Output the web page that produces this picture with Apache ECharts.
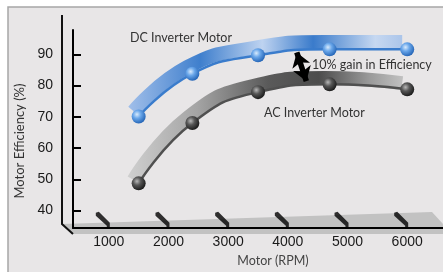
<!DOCTYPE html>
<html>
<head>
<meta charset="utf-8">
<script src="https://cdn.jsdelivr.net/npm/echarts@6/dist/echarts.min.js"></script>
<style>html,body{margin:0;padding:0;background:#fff}#c{width:443px;height:272px}</style>
</head>
<body>
<div id="c"></div>
<script>
// ---- data ----
const rpm = [1500, 2400, 3500, 4700, 6000];
const dcEfficiency = [70.1, 83.8, 89.7, 91.6, 91.6];
const acEfficiency = [48.7, 68.0, 77.9, 80.4, 78.8];
const rpmTicks = [1000, 2000, 3000, 4000, 5000, 6000];
const efficiencyTicks = [40, 50, 60, 70, 80, 90];
const gainArrow = [[4150, 90.6], [4310, 81.4]];
const floorTickLevel = 36.9;

const FONT = 'Lato, "Liberation Sans", sans-serif';
const NUMFONT = '"Liberation Sans", Arial, sans-serif';

const chart = echarts.init(document.getElementById('c'), null, {renderer: 'canvas'});

const pairs = arr => rpm.map((r, i) => [r, arr[i]]);

function sphere(c0, c1, c2) {
  return {type: 'radial', x: 0.38, y: 0.35, r: 0.7,
    colorStops: [{offset: 0, color: c0}, {offset: 0.4, color: c1}, {offset: 1, color: c2}]};
}

const xBase = {type: 'value', min: 400, max: 6600};
const yBase = {type: 'value', min: 34.4, max: 97.8};

const option = {
  backgroundColor: '#ffffff',
  animation: false,
  grid: [
    {left: 73, right: 0, top: 30, bottom: 38},
    {left: 68, right: 5, top: 22, bottom: 46}
  ],
  xAxis: [
    Object.assign({}, xBase, {
      gridIndex: 0,
      axisLine: {show: true, lineStyle: {color: '#000', width: 2}},
      axisTick: {show: false},
      splitLine: {show: false},
      axisLabel: {customValues: rpmTicks, formatter: v => String(v), fontSize: 14, color: '#1a1a1a', fontFamily: NUMFONT, margin: 7},
      name: 'Motor (RPM)', nameLocation: 'middle', nameGap: 26,
      nameTextStyle: {fontSize: 12.5, color: '#444', fontFamily: FONT, padding: [0, 0, 0, 30]}
    }),
    Object.assign({}, xBase, {gridIndex: 1, show: false})
  ],
  yAxis: [
    Object.assign({}, yBase, {
      gridIndex: 0,
      axisLine: {show: true, lineStyle: {color: '#000', width: 2}},
      axisTick: {show: true, inside: true, length: 8, customValues: efficiencyTicks, lineStyle: {color: '#000', width: 2}},
      splitLine: {show: false},
      axisLabel: {customValues: efficiencyTicks, formatter: v => String(v), fontSize: 14, color: '#1a1a1a', fontFamily: NUMFONT, margin: 20},
      name: 'Motor Efficiency (%)', nameLocation: 'middle', nameGap: 46,
      nameTextStyle: {fontSize: 13, color: '#333', fontFamily: FONT, padding: [0, 24, 0, 0]}
    }),
    Object.assign({}, yBase, {gridIndex: 1, show: false})
  ],
  graphic: [
    {type: 'rect', z: -10, shape: {x: 8, y: 7, width: 440, height: 270},
      style: {fill: '#e8e6e7', stroke: '#a6a6a6', lineWidth: 1.5}},
    {type: 'polygon', z: -5, shape: {points: [[62, 224], [73, 234], [443, 234], [443, 224], [432, 212]]},
      style: {fill: '#c2c2c2'}},
    {type: 'polyline', z: -4, shape: {points: [[62, 15], [62, 224], [73, 234]]},
      style: {stroke: '#111', lineWidth: 2, fill: null}},
    {type: 'text', z: 10, x: 130, y: 38, style: {text: 'DC Inverter Motor', fontSize: 12.5, fill: '#333', fontFamily: FONT, verticalAlign: 'middle'}},
    {type: 'text', z: 10, x: 264, y: 113, style: {text: 'AC Inverter Motor', fontSize: 12.5, fill: '#333', fontFamily: FONT, verticalAlign: 'middle'}},
    {type: 'text', z: 10, x: 312, y: 65, style: {text: '10% gain in Efficiency', fontSize: 12.5, fill: '#333', fontFamily: FONT, verticalAlign: 'middle'}}
  ],
  series: [
    {
      name: 'AC ribbon', type: 'line', xAxisIndex: 1, yAxisIndex: 1, smooth: 0.5,
      data: pairs(acEfficiency), symbol: 'none', silent: true, z: 1,
      lineStyle: {width: 14, cap: 'butt', color: {type: 'linear', x: 0, y: 0, x2: 1, y2: 0, colorStops: [
        {offset: 0, color: '#d0d0d0'}, {offset: 0.25, color: '#a4a4a4'}, {offset: 0.5, color: '#5a5a5a'},
        {offset: 0.68, color: '#4c4c4c'}, {offset: 0.86, color: '#9a9a9a'}, {offset: 1, color: '#c8c8c8'}]}}
    },
    {
      name: 'DC ribbon', type: 'line', xAxisIndex: 1, yAxisIndex: 1, smooth: 0.5,
      data: pairs(dcEfficiency), symbol: 'none', silent: true, z: 1,
      lineStyle: {width: 14, cap: 'butt', color: {type: 'linear', x: 0, y: 0, x2: 1, y2: 0, colorStops: [
        {offset: 0, color: '#a3c0ea'}, {offset: 0.26, color: '#3f7fcd'}, {offset: 0.48, color: '#bed3f0'},
        {offset: 0.66, color: '#3a7bcb'}, {offset: 0.88, color: '#c6d8f1'}, {offset: 1, color: '#a4c0e8'}]}}
    },
    {
      name: 'AC Inverter Motor', type: 'line', smooth: 0.5, z: 3,
      data: pairs(acEfficiency), symbol: 'circle', symbolSize: 14, showSymbol: true,
      lineStyle: {width: 2.5, color: '#505050'},
      itemStyle: {color: sphere('#b8b8b8', '#575757', '#151515'), borderWidth: 0}
    },
    {
      name: 'DC Inverter Motor', type: 'line', smooth: 0.5, z: 3,
      data: pairs(dcEfficiency), symbol: 'circle', symbolSize: 14, showSymbol: true,
      lineStyle: {width: 2.5, color: '#3a7ccc'},
      itemStyle: {color: sphere('#d8eafc', '#6aa7ea', '#1e5fb2'), borderWidth: 0}
    },
    {
      name: 'gain', type: 'lines', coordinateSystem: 'cartesian2d', z: 5, silent: true,
      symbol: ['arrow', 'arrow'], symbolSize: 14,
      lineStyle: {color: '#000', width: 5.5, opacity: 1},
      data: [{coords: gainArrow}]
    },
    {
      name: 'floor ticks', type: 'scatter', z: 2, silent: true,
      data: rpmTicks.map(r => [r, floorTickLevel]),
      symbol: 'path://M0,1 L3,0 L14,11 L14,17 L11,17 L11,14 L0,4 Z',
      symbolSize: [14, 17], symbolOffset: [-6, 0], symbolKeepAspect: false,
      itemStyle: {color: '#000'}
    }
  ]
};
chart.setOption(option);
</script>
</body>
</html>
